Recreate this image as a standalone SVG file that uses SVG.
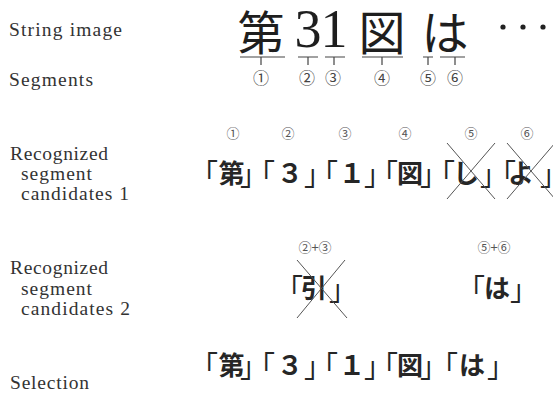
<svg xmlns="http://www.w3.org/2000/svg" width="553" height="397" viewBox="0 0 553 397">
<style>
.lbl{font-family:"Liberation Serif","Times New Roman",serif;font-size:19.5px;fill:#333}
.big{font-family:"Noto Sans CJK JP",sans-serif;font-size:47px;fill:#1e1e1e;text-anchor:middle}
.bigd{font-family:"Liberation Serif",serif;font-size:54px;fill:#1e1e1e;text-anchor:middle}
.cn{font-family:"Noto Sans CJK JP",sans-serif;font-size:16px;fill:#444;text-anchor:middle}
.cs{font-family:"Noto Sans CJK JP",sans-serif;font-size:13px;fill:#555;text-anchor:middle}
.g{font-family:"Noto Sans CJK JP",sans-serif;font-size:26px;font-weight:700;fill:#262626}
.b{font-size:28px;font-weight:400}
.ln{stroke:#444;stroke-width:1.2;fill:none}
.x{stroke:#555;stroke-width:1;fill:none}
</style>
<rect width="553" height="397" fill="#ffffff"/>
<g id="labels">
<text class="lbl" x="9" y="36" textLength="113" lengthAdjust="spacing">String image</text>
<text class="lbl" x="9" y="86" textLength="84" lengthAdjust="spacing">Segments</text>
<text class="lbl" x="10" y="160" textLength="98" lengthAdjust="spacing">Recognized</text>
<text class="lbl" x="21" y="180" textLength="71" lengthAdjust="spacing">segment</text>
<text class="lbl" x="21" y="200" textLength="108" lengthAdjust="spacing">candidates 1</text>
<text class="lbl" x="10" y="274" textLength="98" lengthAdjust="spacing">Recognized</text>
<text class="lbl" x="21" y="295" textLength="71" lengthAdjust="spacing">segment</text>
<text class="lbl" x="21" y="315" textLength="109" lengthAdjust="spacing">candidates 2</text>
<text class="lbl" x="10" y="389" textLength="79" lengthAdjust="spacing">Selection</text>
</g>
<g id="string-image">
<text class="big" x="261" y="50">第</text>
<text class="bigd" x="308" y="47">3</text>
<text class="bigd" x="334" y="47">1</text>
<text class="big" x="382" y="50">図</text>
<text class="big" x="445" y="50">は</text>
<circle cx="503" cy="27" r="2.6" fill="#222"/>
<circle cx="523" cy="27" r="2.6" fill="#222"/>
<circle cx="543" cy="27" r="2.6" fill="#222"/>
</g>
<g id="connectors">
<path class="ln" d="M240 57H285M261 57V65"/>
<path class="ln" d="M298 57H318M308 57V65"/>
<path class="ln" d="M325 57H345M334 57V65"/>
<path class="ln" d="M362 57H403M382 57V65"/>
<path class="ln" d="M423 57H433M428 57V65"/>
<path class="ln" d="M440 57H465M455 57V65"/>
</g>
<g id="segments">
<text class="cn" x="261" y="84">①</text>
<text class="cn" x="307" y="84">②</text>
<text class="cn" x="333" y="84">③</text>
<text class="cn" x="382" y="84">④</text>
<text class="cn" x="428" y="84">⑤</text>
<text class="cn" x="455" y="84">⑥</text>
</g>
<g id="candidates1">
<text class="cs" x="233" y="138">①</text>
<text class="cs" x="288" y="138">②</text>
<text class="cs" x="345" y="138">③</text>
<text class="cs" x="405" y="138">④</text>
<text class="cs" x="471" y="138">⑤</text>
<text class="cs" x="527" y="138">⑥</text>
<text class="g"><tspan class="b" x="190" y="185">「</tspan><tspan x="218.5" y="183">第</tspan><tspan class="b" x="240" y="185">」</tspan><tspan class="b" x="247" y="185">「</tspan><tspan x="277" y="183">３</tspan><tspan class="b" x="304" y="185">」</tspan><tspan class="b" x="310" y="185">「</tspan><tspan x="339" y="183">１</tspan><tspan class="b" x="364" y="185">」</tspan><tspan class="b" x="370" y="185">「</tspan><tspan x="397" y="183">図</tspan><tspan class="b" x="420" y="185">」</tspan><tspan class="b" x="427" y="185">「</tspan><tspan x="453" y="183">し</tspan><tspan class="b" x="480" y="185">」</tspan><tspan class="b" x="488" y="185">「</tspan><tspan x="508" y="183">よ</tspan><tspan class="b" x="540" y="185">」</tspan></text>
<path class="x" d="M447 143L495 199M495 143L447 199"/>
<path class="x" d="M507 143L555 199M555 143L507 199"/>
</g>
<g id="candidates2">
<text class="cs" x="315" y="252">②+③</text>
<text class="cs" x="494" y="252">⑤+⑥</text>
<text class="g"><tspan class="b" x="275" y="300">「</tspan><tspan x="301" y="298">引</tspan><tspan class="b" x="329" y="300">」</tspan><tspan class="b" x="457" y="300">「</tspan><tspan x="484" y="298">は</tspan><tspan class="b" x="510" y="300">」</tspan></text>
<path class="x" d="M297 260L347 318M345 260L297 318"/>
</g>
<g id="selection">
<text class="g"><tspan class="b" x="190" y="377">「</tspan><tspan x="218.5" y="375">第</tspan><tspan class="b" x="240" y="377">」</tspan><tspan class="b" x="247" y="377">「</tspan><tspan x="277" y="375">３</tspan><tspan class="b" x="304" y="377">」</tspan><tspan class="b" x="310" y="377">「</tspan><tspan x="339" y="375">１</tspan><tspan class="b" x="364" y="377">」</tspan><tspan class="b" x="370" y="377">「</tspan><tspan x="397" y="375">図</tspan><tspan class="b" x="420" y="377">」</tspan><tspan class="b" x="430" y="377">「</tspan><tspan x="459" y="375">は</tspan><tspan class="b" x="487" y="377">」</tspan></text>
</g>
</svg>
